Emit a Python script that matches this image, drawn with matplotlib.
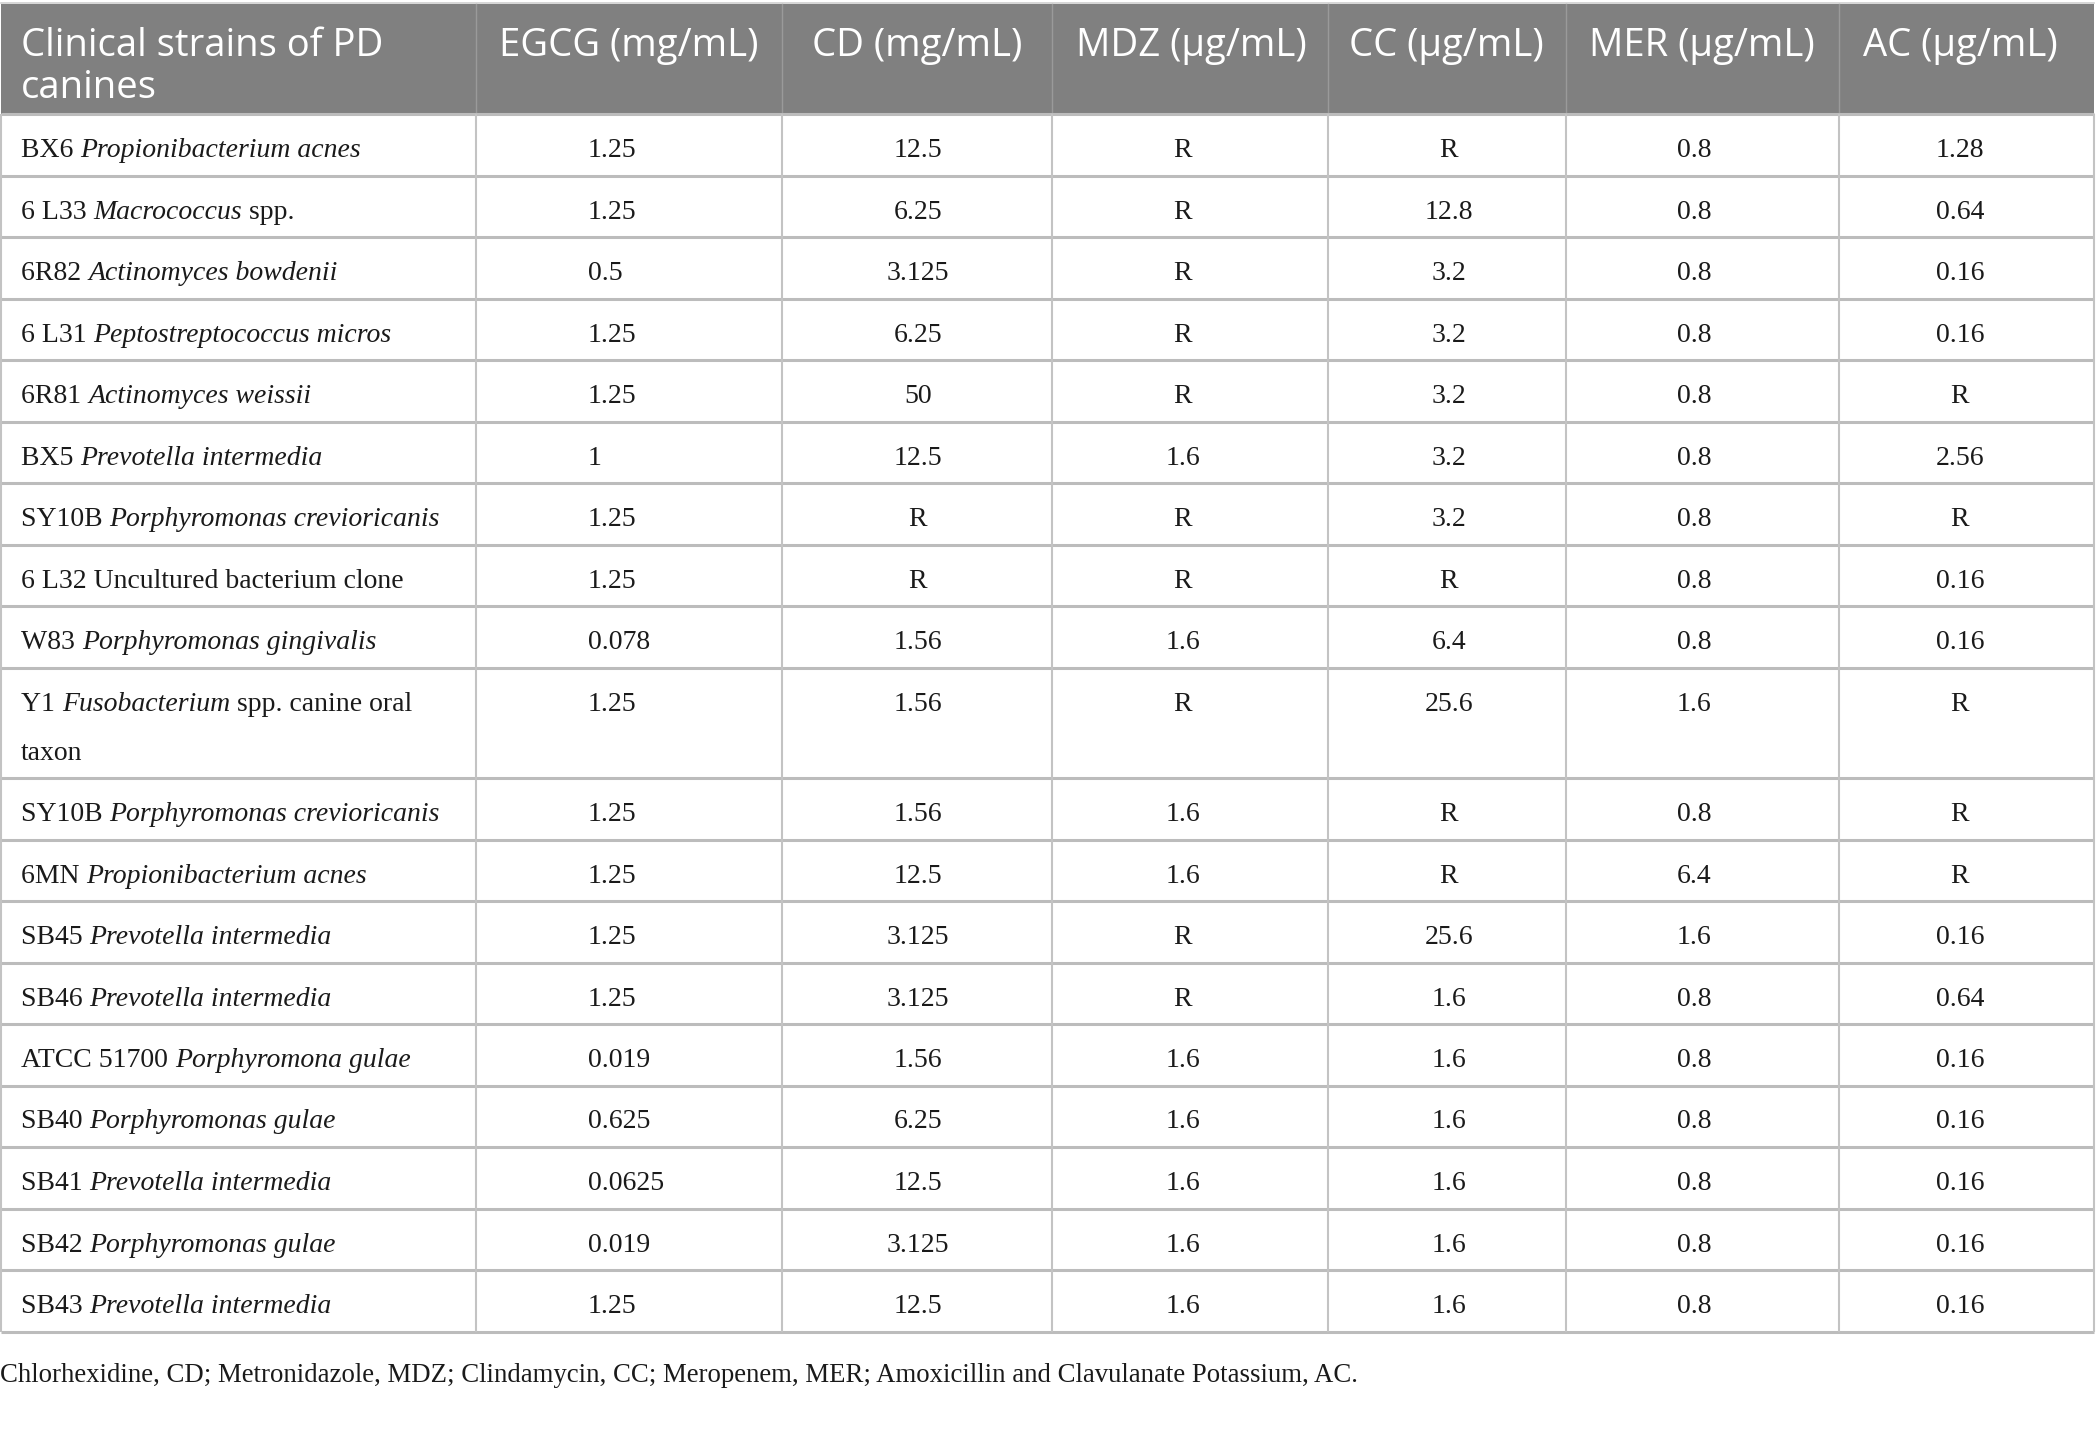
import matplotlib
matplotlib.use("Agg")
import matplotlib.pyplot as plt
from matplotlib.patches import Rectangle

# ---------------- data ----------------
headers = ["Clinical strains of PD\ncanines", "EGCG (mg/mL)", "CD (mg/mL)",
           "MDZ (µg/mL)", "CC (µg/mL)", "MER (µg/mL)", "AC (µg/mL)"]

# strain label parts: (roman prefix, italic name, roman suffix)
strain_prefix = ["BX6 ", "6 L33 ", "6R82 ", "6 L31 ", "6R81 ", "BX5 ", "SY10B ",
                 "6 L32 Uncultured bacterium clone", "W83 ", "Y1 ", "SY10B ", "6MN ",
                 "SB45 ", "SB46 ", "ATCC 51700 ", "SB40 ", "SB41 ", "SB42 ", "SB43 "]
strain_italic = ["Propionibacterium acnes", "Macrococcus", "Actinomyces bowdenii",
                 "Peptostreptococcus micros", "Actinomyces weissii", "Prevotella intermedia",
                 "Porphyromonas crevioricanis", "", "Porphyromonas gingivalis",
                 "Fusobacterium", "Porphyromonas crevioricanis", "Propionibacterium acnes",
                 "Prevotella intermedia", "Prevotella intermedia", "Porphyromona gulae",
                 "Porphyromonas gulae", "Prevotella intermedia", "Porphyromonas gulae",
                 "Prevotella intermedia"]
strain_suffix = ["", " spp.", "", "", "", "", "", "", "", " spp. canine oral\ntaxon",
                 "", "", "", "", "", "", "", "", ""]

egcg = ["1.25", "1.25", "0.5", "1.25", "1.25", "1", "1.25", "1.25", "0.078", "1.25",
        "1.25", "1.25", "1.25", "1.25", "0.019", "0.625", "0.0625", "0.019", "1.25"]
cd = ["12.5", "6.25", "3.125", "6.25", "50", "12.5", "R", "R", "1.56", "1.56",
      "1.56", "12.5", "3.125", "3.125", "1.56", "6.25", "12.5", "3.125", "12.5"]
mdz = ["R", "R", "R", "R", "R", "1.6", "R", "R", "1.6", "R",
       "1.6", "1.6", "R", "R", "1.6", "1.6", "1.6", "1.6", "1.6"]
cc = ["R", "12.8", "3.2", "3.2", "3.2", "3.2", "3.2", "R", "6.4", "25.6",
      "R", "R", "25.6", "1.6", "1.6", "1.6", "1.6", "1.6", "1.6"]
mer = ["0.8", "0.8", "0.8", "0.8", "0.8", "0.8", "0.8", "0.8", "0.8", "1.6",
       "0.8", "6.4", "1.6", "0.8", "0.8", "0.8", "0.8", "0.8", "0.8"]
ac = ["1.28", "0.64", "0.16", "0.16", "R", "2.56", "R", "0.16", "0.16", "R",
      "R", "R", "0.16", "0.64", "0.16", "0.16", "0.16", "0.16", "0.16"]

caption = ("Chlorhexidine, CD; Metronidazole, MDZ; Clindamycin, CC; Meropenem, MER; "
           "Amoxicillin and Clavulanate Potassium, AC.")

# ---------------- layout (pixels) ----------------
W, H = 2096, 1433
col_edges = [1, 476, 782, 1052, 1328, 1566, 1839, 2094]
head_top, head_bot = 4, 114
row_h, line_h = 61.5, 49.0
hdr_centers = [None, 629, 917, 1191, 1446, 1702, 1960]
val_x = [588, 918, 1183, 1449, 1694, 1960]
val_ha = ["left", "center", "center", "center", "center", "center"]

serif = "Liberation Serif"
sans = "Open Sans"
body_fs = 20
head_fs = 27.5
head_col = "#808080"
grid_col = "#c3c3c3"
text_col = "#1a1a1a"

fig = plt.figure(figsize=(W / 100, H / 100), dpi=100)
ax = fig.add_axes([0, 0, 1, 1])
ax.set_xlim(0, W)
ax.set_ylim(H, 0)
ax.axis("off")
renderer = fig.canvas.get_renderer()

# header band
ax.add_patch(Rectangle((col_edges[0], head_top), col_edges[-1] - col_edges[0],
                       head_bot - head_top, facecolor=head_col, edgecolor="none", zorder=1))
ax.plot([col_edges[0], col_edges[-1]], [head_top - 1, head_top - 1], color="#d0d0d0", lw=1.2, zorder=2)
for x in col_edges[1:-1]:
    ax.plot([x, x], [head_top, head_bot], color="#9a9a9a", lw=1.0, zorder=2)

# header text (first line baseline aligned across columns)
head_base = head_top + 52
head_line = 42
for k, part in enumerate(headers[0].split("\n")):
    ax.text(21, head_base + k * head_line, part, ha="left", va="baseline", color="white",
            fontsize=head_fs, family=sans, zorder=3)
for j in range(1, len(headers)):
    ax.text(hdr_centers[j], head_base, headers[j], ha="center", va="baseline",
            color="white", fontsize=head_fs, family=sans, zorder=3)


def text_width(s, style):
    t = ax.text(0, 0, s, fontsize=body_fs, family=serif, style=style)
    w = t.get_window_extent(renderer).width
    t.remove()
    return w


# rows
columns = [egcg, cd, mdz, cc, mer, ac]
y = head_bot
row_edges = [y]
for i in range(len(strain_prefix)):
    nlines = 1 + (strain_prefix[i] + strain_italic[i] + strain_suffix[i]).count("\n")
    h = row_h + (nlines - 1) * line_h
    base = y + 43
    x = 21
    pieces = [(strain_prefix[i], "normal"), (strain_italic[i], "italic"),
              (strain_suffix[i], "normal")]
    line = 0
    for txt, style in pieces:
        if not txt:
            continue
        for k, part in enumerate(txt.split("\n")):
            if k > 0:
                line += 1
                x = 21
            if not part:
                continue
            ax.text(x, base + line * line_h, part, ha="left", va="baseline",
                    fontsize=body_fs, family=serif, style=style, color=text_col, zorder=3)
            # advance width, including leading/trailing spaces
            x += text_width("|" + part + "|", style) - text_width("||", style)
    for j, col in enumerate(columns):
        ax.text(val_x[j], base, col[i], ha=val_ha[j], va="baseline", fontsize=body_fs,
                family=serif, color=text_col, zorder=3)
    y += h
    row_edges.append(y)

# grid lines
for ry in row_edges:
    ax.plot([col_edges[0], col_edges[-1]], [ry, ry], color="#bcbcbc", lw=2.2, zorder=2,
            solid_capstyle="butt")
for x in col_edges:
    ax.plot([x, x], [head_bot, row_edges[-1]], color=grid_col, lw=1.5, zorder=2,
            solid_capstyle="butt")

# caption
ax.text(0, 1382, caption, ha="left", va="baseline", fontsize=19.25,
        family=serif, color=text_col)

fig.savefig("out.png", dpi=100)
